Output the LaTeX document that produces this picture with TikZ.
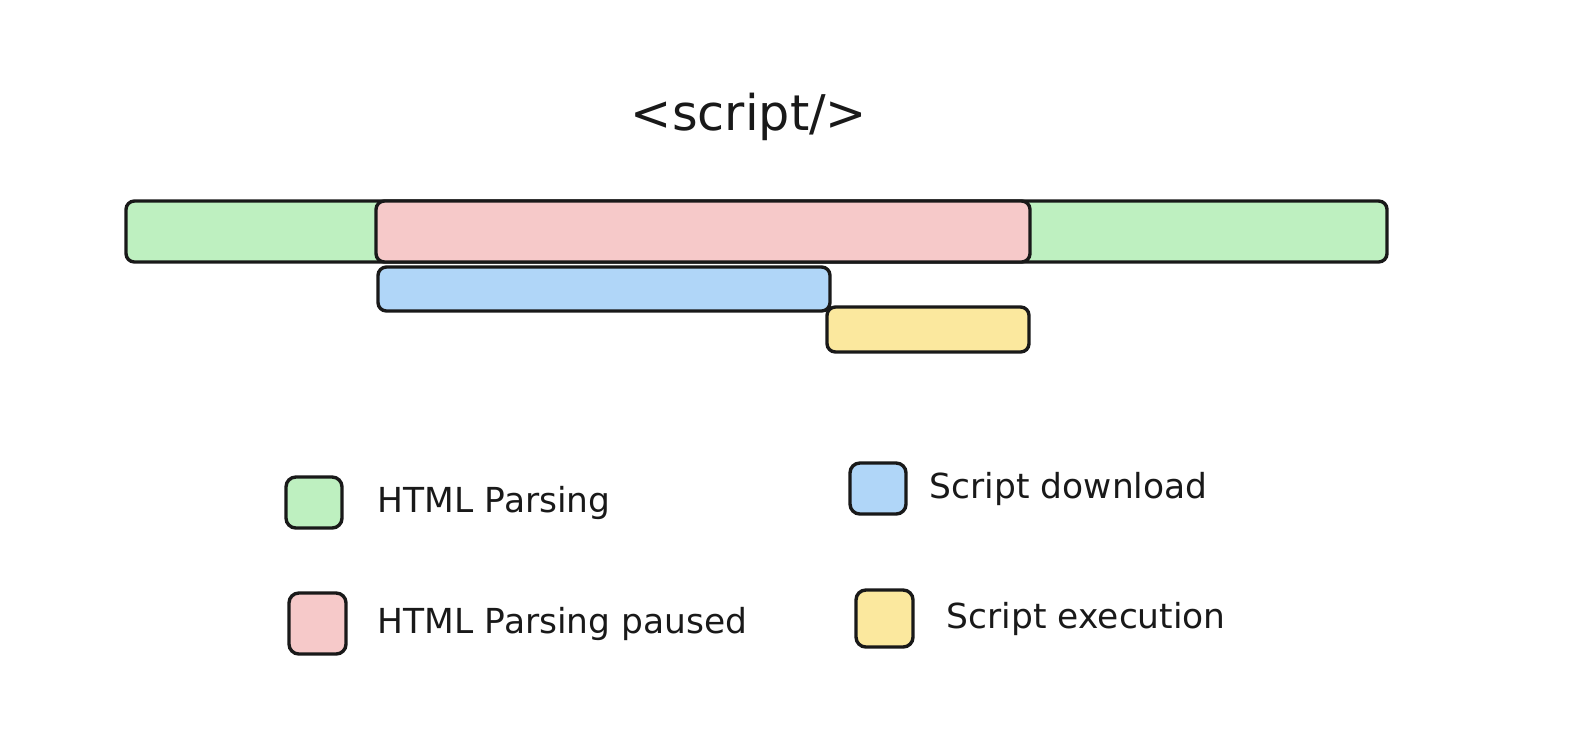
\documentclass[tikz,border=0pt]{standalone}
\usepackage{fontspec}
\setmainfont{DejaVu Sans}
\usetikzlibrary{positioning,fit}
\definecolor{parsegreen}{RGB}{190,240,192}
\definecolor{pausepink}{RGB}{246,201,201}
\definecolor{loadblue}{RGB}{176,214,248}
\definecolor{runyellow}{RGB}{251,232,158}
\definecolor{inkblack}{RGB}{25,25,25}

\begin{document}
\begin{tikzpicture}[x=0.025cm, y=-0.025cm,
  bar/.style={draw=inkblack,line width=2.4pt,rounded corners=6pt,inner sep=0pt},
  key/.style={bar,rounded corners=7pt},
  legtext/.style={inner sep=0pt,text=inkblack,font=\fontsize{24.5}{29}\selectfont}]
  \useasboundingbox[fill=white] (0,0) rectangle (1582,752);
  \node[text=inkblack,font=\fontsize{35}{42}\selectfont] (title) at (749,117) {<script/>};
  % timeline
  \node[bar,fill=parsegreen,fit={(126,201) (1387,262)}] (parsing) {};
  \node[bar,fill=pausepink,fit={(376,201) (1030,262)}] (paused) {};
  \node[bar,fill=loadblue,fit={(378,267) (830,311)}] (download) {};
  \node[bar,fill=runyellow,fit={(827,307) (1029,352)}] (execution) {};
  % legend
  \node[key,fill=parsegreen,fit={(286,477) (342,528)}] (keyparse) {};
  \node[key,fill=pausepink,fit={(289,593) (346,654)}] (keypause) {};
  \node[key,fill=loadblue,fit={(850,463) (906,514)}] (keyload) {};
  \node[key,fill=runyellow,fit={(856,590) (913,647)}] (keyrun) {};
  \node[legtext,right=0.85cm of keyparse] (txtparse) {HTML Parsing};
  \node[legtext,right=0.75cm of keypause] (txtpause) {HTML Parsing paused};
  \node[legtext,right=0.55cm of keyload] (txtload) {Script download};
  \node[legtext,right=0.8cm of keyrun] (txtrun) {Script execution};
\end{tikzpicture}
\end{document}
